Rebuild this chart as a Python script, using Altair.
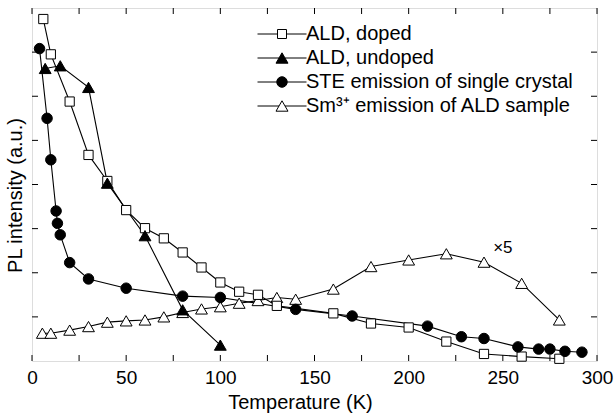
import altair as alt
import pandas as pd

# ---- data ----
series_names = ["ALD, doped", "ALD, undoped", "STE emission of single crystal", "Sm³⁺ emission of ALD sample"]

doped_T = [6, 10, 20, 30, 40, 50, 60, 70, 80, 90, 100, 110, 120, 130, 160, 180, 200, 220, 240, 260, 280]
doped_I = [7.75, 6.95, 5.88, 4.67, 4.08, 3.42, 3.01, 2.78, 2.46, 2.12, 1.78, 1.57, 1.50, 1.25, 1.08, 0.85, 0.76, 0.44, 0.16, 0.10, 0.05]

undoped_T = [7, 15, 30, 40, 60, 80, 100]
undoped_I = [6.63, 6.69, 6.20, 4.03, 2.84, 1.16, 0.36]

ste_T = [4, 8, 10, 12.8, 13.5, 15, 20, 30, 50, 80, 100, 140, 170, 210, 228, 240, 258, 269, 275, 283, 292]
ste_I = [7.08, 5.50, 4.56, 3.40, 3.12, 2.86, 2.23, 1.86, 1.65, 1.47, 1.44, 1.17, 1.02, 0.79, 0.55, 0.51, 0.32, 0.27, 0.27, 0.22, 0.20]

sm_T = [5.5, 10, 20, 30, 40, 50, 60, 70, 80, 90, 100, 110, 120, 130, 140, 160, 180, 200, 220, 240, 260, 280]
sm_I = [0.63, 0.63, 0.70, 0.78, 0.88, 0.91, 0.93, 1.00, 1.10, 1.18, 1.23, 1.31, 1.37, 1.44, 1.40, 1.63, 2.14, 2.29, 2.43, 2.24, 1.76, 0.93]

x_tick_values = [0, 25, 50, 75, 100, 125, 150, 175, 200, 225, 250, 275, 300]
x_label_values = [0, 50, 100, 150, 200, 250, 300]
y_tick_values = [1, 2, 3, 4, 5, 6, 7]

ann_T = [250]
ann_I = [2.55]
ann_text = ["×5"]

# ---- tables ----
frames = []
for name, T, I in zip(series_names, [doped_T, undoped_T, ste_T, sm_T], [doped_I, undoped_I, ste_I, sm_I]):
    frames.append(pd.DataFrame({"series": name, "T": T, "I": I}))
df = pd.concat(frames, ignore_index=True)
xt = pd.DataFrame({"T": x_tick_values})
yt = pd.DataFrame({"I": y_tick_values})
ann = pd.DataFrame({"T": ann_T, "I": ann_I, "label": ann_text})

W, H = 565, 353
FONT = "Liberation Sans"

xs = alt.Scale(domain=[0, 300], nice=False, zero=False)
ys = alt.Scale(domain=[0, 8], nice=False, zero=False)

x_axis = alt.Axis(values=x_label_values, title="Temperature (K)", ticks=False, domain=False, grid=False,
                  labelFlush=False, labelOverlap=False, labelPadding=7, labelFontSize=19, titleFontSize=20,
                  titleX=268, titleY=47, titleBaseline="alphabetic", titleFontWeight="normal",
                  labelColor="black", titleColor="black", labelFont=FONT, titleFont=FONT)
y_axis = alt.Axis(labels=False, ticks=False, domain=False, grid=False, title="PL intensity (a.u.)",
                  titleX=-17, titleY=187, titleBaseline="middle", titleFontSize=20, titleFontWeight="normal",
                  titleColor="black", titleFont=FONT)

x_enc = alt.X("T:Q", scale=xs, axis=x_axis)
y_enc = alt.Y("I:Q", scale=ys, axis=y_axis)

base = alt.Chart(df)

lines = base.mark_line(color="black", strokeWidth=1.1).encode(x=x_enc, y=y_enc, detail="series:N")

styles = {
    "Sm³⁺ emission of ALD sample": dict(shape="triangle-up", fill="white", size=140),
    "ALD, doped": dict(shape="square", fill="white", size=85),
    "ALD, undoped": dict(shape="triangle-up", fill="black", size=140),
    "STE emission of single crystal": dict(shape="circle", fill="black", size=110),
}
point_layers = []
for name, st in styles.items():
    point_layers.append(
        base.transform_filter(alt.datum.series == name)
        .mark_point(filled=True, shape=st["shape"], fill=st["fill"], size=st["size"],
                    stroke="black", strokeWidth=1, opacity=1)
        .encode(x=x_enc, y=y_enc)
    )

# legend symbols: line segment + marker
sq = "M-4.9,0H-0.9M0.9,0H4.9M-0.9,-0.9H0.9V0.9H-0.9Z"
tri = "M-4.9,0H-0.6M0.6,0H4.9M0,-1.04L1.2,1.04L-1.2,1.04Z"
circ = "M-4.9,0H-1.05M1.05,0H4.9M-1.05,0A1.05,1.05 0 1,0 1.05,0A1.05,1.05 0 1,0 -1.05,0Z"
leg = alt.Legend(title=None, orient="none", legendX=240, legendY=16, labelFontSize=20, labelOffset=14,
                 symbolSize=100, symbolStrokeColor="black", symbolStrokeWidth=1, rowPadding=4, padding=0,
                 labelColor="black", symbolOpacity=1, labelLimit=400, labelFont=FONT)
legend_layer = (
    base.transform_filter("datum.T < -1")
    .mark_point(filled=True, strokeWidth=1, opacity=1)
    .encode(
        x=x_enc, y=y_enc,
        shape=alt.Shape("series:N", scale=alt.Scale(domain=series_names, range=[sq, tri, circ, tri]), legend=leg),
        fill=alt.Fill("series:N", scale=alt.Scale(domain=series_names, range=["white", "black", "black", "white"]), legend=leg),
        stroke=alt.Stroke("series:N", scale=alt.Scale(domain=series_names, range=["black", "black", "black", "black"]), legend=leg),
    )
)

tick_b = alt.Chart(xt).mark_rule(color="black", strokeWidth=1).encode(x=x_enc, y=alt.value(H), y2=alt.value(H - 6))
tick_t = alt.Chart(xt).mark_rule(color="black", strokeWidth=1).encode(x=x_enc, y=alt.value(0), y2=alt.value(6))
tick_l = alt.Chart(yt).mark_rule(color="black", strokeWidth=1).encode(y=y_enc, x=alt.value(0), x2=alt.value(6))
tick_r = alt.Chart(yt).mark_rule(color="black", strokeWidth=1).encode(y=y_enc, x=alt.value(W - 6), x2=alt.value(W))

note = alt.Chart(ann).mark_text(fontSize=17, color="black", font=FONT).encode(x=x_enc, y=y_enc, text="label:N")

chart = (
    alt.layer(lines, *point_layers, legend_layer, tick_b, tick_t, tick_l, tick_r, note)
    .properties(width=W, height=H, autosize=alt.AutoSizeParams(type="none"),
                padding={"left": 32, "top": 8, "right": 17, "bottom": 53})
    .configure_view(stroke="black", strokeWidth=1)
    .configure(font=FONT, background="white")
)

chart.save("out.html", embed_options={"renderer": "svg", "actions": False})
